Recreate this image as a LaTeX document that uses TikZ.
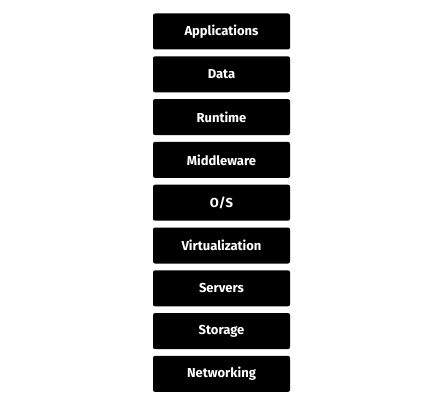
\documentclass[tikz,border=0pt]{standalone}
\usepackage{fontspec}
\setmainfont{Fira Sans}
\begin{document}
\begin{tikzpicture}[x=1pt,y=1pt,
  layerbox/.style={fill=black,rounded corners=2pt,minimum width=137pt,minimum height=36pt,inner sep=0pt,
    text=white,font=\fontsize{13}{15}\selectfont\bfseries}]
\useasboundingbox (0,0) rectangle (444,-412);
\foreach \t [count=\i from 0] in {Applications,Data,Runtime,Middleware,O/S,Virtualization,Servers,Storage,Networking}{
  \node[layerbox] (n\i) at (221.5,{-31.5-42.8*\i}) {\t};
}
\end{tikzpicture}
\end{document}
